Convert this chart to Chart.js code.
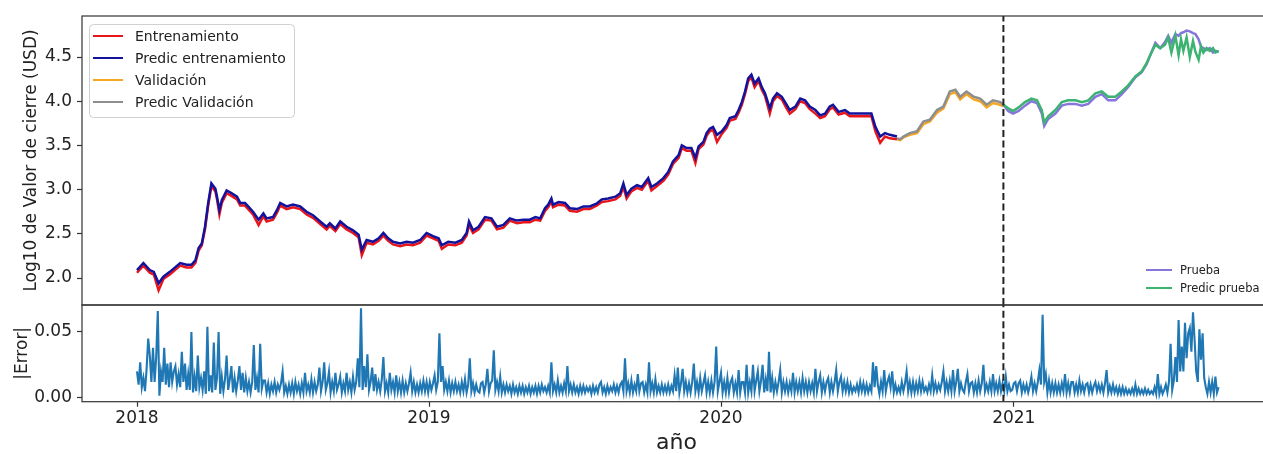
<!DOCTYPE html>
<html><head><meta charset="utf-8">
<script src="https://cdn.jsdelivr.net/npm/chart.js@4.4.1/dist/chart.umd.min.js"></script>
<style>
html,body{margin:0;padding:0;background:#fff;overflow:hidden;width:1263px;height:454px}
#wrap{width:1263px;height:454px;overflow:hidden;position:relative}
canvas{display:block}
</style>
</head><body><div id="wrap"><canvas id="c" width="1280" height="454"></canvas></div>
<script>
// x values: days since 2018-01-01
const yearLabels = ['2018','2019','2020','2021'];
const yearDays = [0, 365, 730, 1096];
const priceTicks = [2.0, 2.5, 3.0, 3.5, 4.0, 4.5];
const errTicks = [0.00, 0.05];
const splitDay = 1083; // dashed separator (validation / test)

const trainDays = [
0,8,16,21,27,33,41,54,62,68,
73,77,81,85,89,93,98,100,103,106,
112,118,125,129,135,139,145,152,158,162,
170,175,179,187,195,204,212,220,229,237,
241,248,254,262,270,277,281,287,295,302,
308,314,320,329,337,345,354,362,370,377,
381,389,398,406,412,415,420,427,435,443,
450,458,466,475,483,491,498,504,510,514,
518,520,527,535,541,550,558,566,575,581,
589,598,604,608,612,618,625,631,639,643,
650,658,664,670,677,681,687,693,698,702,
708,712,716,720,725,731,737,741,748,752,
756,760,764,768,772,777,781,785,791,795,
800,806,812,816,823,829,835,841,848,854,
860,866,870,877,885,891,900,908,918,923,
929,935,941,950];
const trainActual = [
2.06,2.14,2.06,2.04,1.86,1.99,2.04,2.14,2.12,2.12,
2.17,2.31,2.37,2.55,2.82,3.04,2.98,2.89,2.72,2.85,
2.96,2.93,2.89,2.82,2.82,2.78,2.72,2.60,2.70,2.64,
2.66,2.74,2.82,2.78,2.80,2.78,2.72,2.68,2.61,2.55,
2.59,2.53,2.61,2.55,2.51,2.46,2.26,2.40,2.38,2.42,
2.48,2.42,2.38,2.36,2.38,2.37,2.40,2.48,2.45,2.42,
2.33,2.38,2.37,2.40,2.48,2.60,2.51,2.55,2.66,2.65,
2.55,2.57,2.65,2.62,2.63,2.63,2.66,2.65,2.76,2.80,
2.87,2.80,2.83,2.82,2.76,2.75,2.78,2.78,2.82,2.86,
2.87,2.89,2.93,3.03,2.90,2.98,3.02,3.00,3.10,2.99,
3.04,3.10,3.17,3.29,3.36,3.47,3.44,3.44,3.30,3.46,
3.51,3.61,3.66,3.68,3.54,3.63,3.70,3.78,3.80,3.87,
3.96,4.08,4.23,4.27,4.16,4.23,4.13,4.06,3.86,4.00,
4.06,4.02,3.92,3.86,3.91,4.00,3.98,3.91,3.86,3.81,
3.83,3.91,3.93,3.85,3.87,3.83,3.83,3.83,3.83,3.66,
3.53,3.60,3.58,3.57];
const trainPred = [
2.09,2.17,2.09,2.07,1.94,2.015,2.07,2.17,2.15,2.15,
2.20,2.34,2.39,2.58,2.85,3.07,3.01,2.92,2.77,2.88,
2.99,2.96,2.92,2.85,2.85,2.81,2.75,2.66,2.73,2.675,
2.69,2.77,2.85,2.81,2.83,2.81,2.75,2.71,2.64,2.58,
2.62,2.56,2.64,2.58,2.54,2.49,2.32,2.43,2.41,2.45,
2.51,2.45,2.41,2.39,2.41,2.40,2.43,2.51,2.475,2.45,
2.37,2.41,2.40,2.43,2.51,2.64,2.54,2.58,2.69,2.675,
2.58,2.60,2.675,2.65,2.66,2.66,2.69,2.675,2.79,2.83,
2.90,2.83,2.86,2.85,2.79,2.78,2.81,2.81,2.845,2.89,
2.90,2.92,2.96,3.07,2.94,3.01,3.05,3.03,3.13,3.03,
3.07,3.13,3.20,3.32,3.39,3.50,3.47,3.47,3.36,3.49,
3.54,3.64,3.69,3.71,3.62,3.66,3.73,3.81,3.83,3.90,
3.99,4.11,4.26,4.30,4.20,4.26,4.16,4.09,3.92,4.03,
4.09,4.05,3.96,3.90,3.94,4.03,4.01,3.94,3.90,3.84,
3.86,3.94,3.96,3.88,3.90,3.86,3.86,3.86,3.86,3.71,
3.60,3.64,3.62,3.60];

const valDays = [950,954,958,966,975,983,991,1000,1008,1016,1023,1029,1037,1046,1054,1062,1070,1079,1083];
const valActual = [3.57,3.56,3.59,3.62,3.64,3.74,3.77,3.87,3.92,4.08,4.10,4.02,4.08,4.02,4.00,3.93,3.98,3.96,3.94];
const valPred = [3.58,3.57,3.60,3.64,3.66,3.77,3.79,3.90,3.94,4.11,4.13,4.05,4.11,4.05,4.03,3.96,4.01,3.99,3.96];

const testDays = [
1083,1089,1095,1102,1110,1118,1125,1131,1134,1139,
1148,1156,1164,1173,1181,1189,1198,1206,1214,1223,
1231,1239,1248,1256,1262,1268,1273,1279,1285,1289,
1293,1298,1302,1305,1308,1312,1316,1320,1323,1327,
1330,1333,1337,1341,1345,1348,1352];
const testActual = [
3.96,3.89,3.86,3.89,3.95,4.00,3.98,3.86,3.72,3.80,
3.86,3.95,3.97,3.97,3.95,3.97,4.05,4.08,4.01,4.01,
4.08,4.16,4.27,4.33,4.42,4.55,4.66,4.60,4.67,4.74,
4.66,4.76,4.74,4.77,4.78,4.80,4.79,4.77,4.76,4.70,
4.62,4.60,4.58,4.60,4.55,4.57,4.56];
const testPred = [
3.96,3.92,3.89,3.93,3.99,4.03,4.01,3.90,3.76,3.83,
3.90,3.99,4.01,4.01,3.99,4.01,4.09,4.11,4.05,4.05,
4.11,4.18,4.28,4.34,4.43,4.55,4.64,4.60,4.64,4.72,
4.55,4.74,4.52,4.70,4.57,4.72,4.50,4.68,4.56,4.47,
4.62,4.55,4.60,4.57,4.60,4.55,4.57];

// |Error| read every 2 days from 2018-01-01 (one row = 20 days)
const ERR_STEP_DAYS = 2;
const errVals = [
.020,.010,.027,.008,.015,.005,.022,.045,.032,.012,
.038,.012,.031,.066,.0015,.020,.012,.038,.010,.026,
.008,.027,.012,.020,.024,.010,.018,.008,.035,.012,
.026,.006,.018,.006,.050,.004,.016,.005,.032,.008,
.015,.006,.020,.003,.054,.005,.017,.004,.042,.006,
.015,.050,.003,.016,.005,.014,.032,.006,.014,.024,
.004,.015,.005,.013,.024,.006,.019,.004,.015,.005,
.012,.004,.012,.040,.006,.015,.004,.041,.007,.013,
.013,.004,.011,.003,.010,.005,.012,.004,.010,.006,
.011,.020,.004,.009,.003,.010,.004,.011,.003,.012,
.005,.010,.003,.011,.004,.019,.005,.010,.004,.014,
.004,.012,.005,.010,.023,.005,.012,.027,.006,.011,
.020,.004,.012,.005,.019,.006,.010,.016,.004,.011,
.005,.019,.006,.012,.004,.016,.006,.012,.030,.008,
.068,.006,.024,.008,.033,.006,.012,.023,.005,.018,
.006,.012,.005,.014,.031,.005,.011,.004,.019,.006,
.012,.004,.017,.005,.012,.004,.013,.004,.011,.005,
.011,.019,.005,.012,.004,.010,.004,.011,.005,.013,
.005,.012,.004,.012,.006,.011,.017,.006,.012,.049,
.012,.024,.006,.012,.005,.013,.004,.011,.005,.012,
.005,.010,.004,.012,.005,.014,.004,.010,.030,.005,
.011,.004,.010,.005,.004,.011,.012,.004,.010,.022,
.005,.011,.013,.036,.006,.012,.005,.016,.004,.010,
.004,.010,.005,.009,.003,.010,.004,.008,.003,.009,
.004,.009,.003,.008,.004,.009,.003,.008,.004,.009,
.003,.009,.004,.010,.005,.008,.004,.009,.004,.027,
.005,.010,.004,.013,.004,.009,.004,.011,.005,.024,
.005,.010,.004,.010,.004,.008,.003,.009,.004,.009,
.004,.008,.005,.008,.003,.009,.004,.008,.004,.010,
.012,.004,.008,.003,.009,.004,.008,.005,.010,.004,
.009,.004,.010,.012,.005,.030,.005,.011,.004,.013,
.004,.010,.005,.018,.005,.011,.012,.004,.010,.004,
.027,.005,.011,.004,.014,.004,.009,.004,.010,.004,
.009,.004,.010,.004,.009,.005,.017,.005,.023,.004,
.011,.022,.005,.012,.004,.011,.004,.012,.026,.005,
.012,.004,.015,.005,.011,.017,.004,.012,.004,.013,
.004,.012,.039,.005,.012,.019,.004,.012,.004,.015,
.004,.012,.015,.004,.011,.004,.021,.004,.012,.012,
.004,.025,.004,.012,.005,.025,.005,.013,.020,.005,
.013,.025,.004,.014,.005,.035,.004,.015,.004,.012,
.005,.012,.021,.004,.012,.005,.012,.004,.011,.005,
.019,.004,.012,.005,.012,.004,.015,.005,.012,.004,
.012,.005,.011,.004,.022,.005,.012,.017,.004,.012,
.005,.012,.015,.004,.012,.005,.012,.021,.005,.012,
.016,.005,.012,.005,.012,.004,.010,.004,.008,.005,
.010,.004,.012,.005,.011,.004,.010,.004,.009,.005,
.027,.008,.024,.010,.003,.012,.005,.021,.005,.012,
.016,.008,.020,.004,.010,.004,.008,.004,.012,.005,
.011,.020,.005,.012,.004,.012,.004,.011,.005,.013,
.005,.012,.005,.008,.004,.010,.005,.017,.005,.011,
.005,.010,.006,.012,.020,.005,.012,.005,.013,.005,
.021,.005,.012,.022,.005,.011,.006,.004,.012,.018,
.005,.011,.012,.004,.011,.004,.013,.005,.011,.025,
.005,.010,.005,.012,.005,.018,.005,.011,.005,.013,
.005,.011,.005,.016,.005,.010,.005,.006,.011,.012,
.005,.011,.013,.004,.010,.005,.010,.004,.009,.016,
.005,.011,.005,.012,.021,.010,.063,.012,.018,.004,
.013,.004,.011,.004,.011,.004,.010,.004,.011,.005,
.018,.004,.011,.004,.012,.012,.004,.010,.004,.013,
.005,.010,.004,.010,.011,.004,.010,.004,.009,.012,
.005,.010,.005,.010,.004,.011,.021,.004,.009,.004,
.010,.004,.008,.003,.008,.003,.008,.003,.007,.003,
.006,.003,.007,.003,.010,.003,.007,.003,.006,.003,
.007,.003,.006,.003,.005,.003,.008,.003,.018,.003,
.008,.003,.006,.010,.004,.012,.041,.006,.013,.031,
.012,.059,.020,.039,.020,.057,.030,.049,.053,.035,
.065,.044,.020,.012,.052,.029,.049,.015,.008,.003,
.012,.004,.012,.003,.016,.004,.008];
const errDays = errVals.map((_, i) => i * ERR_STEP_DAYS);

// axis limits
const X_MIN = -68.75, X_MAX = 1417.5;
const P_MIN = 1.695, P_MAX = 4.964;
const E_MIN = -0.003, E_MAX = 0.0705;

const FONT = "'DejaVu Sans', sans-serif";
const TXT = '#222';
const legendA = ['Entrenamiento','Predic entrenamiento','Validación','Predic Validación'];
const legendB = ['Prueba','Predic prueba'];

const pts = (xs, ys) => xs.slice(0, Math.min(xs.length, ys.length)).map((x, i) => ({x, y: ys[i]}));

const line = (label, xs, ys, color, order, axis, extra) => Object.assign({
  label, data: pts(xs, ys), borderColor: color, backgroundColor: color,
  borderWidth: 2.5, pointRadius: 0, tension: 0, fill: false, order, yAxisID: axis
}, extra || {});

const datasets = [
  line('Entrenamiento', trainDays, trainActual, '#e8161b', 8, 'y'),
  line('Predic entrenamiento', trainDays, trainPred, '#12129c', 7, 'y'),
  line('Validación', valDays, valActual, '#f5a623', 6, 'y'),
  line('Predic Validación', valDays, valPred, '#8e8e8e', 5, 'y'),
  line('Prueba', testDays, testActual, '#8675dc', 4, 'y'),
  line('Predic prueba', testDays, testPred, '#3cb371', 3, 'y'),
  line('|Error|', errDays, errVals, '#1f77b4', 2, 'yErr', {borderWidth: 2.1}),
  line('split', [splitDay, splitDay], [P_MIN, P_MAX], '#222', 1, 'y', {borderWidth: 2, borderDash: [7, 3.5]}),
  line('split2', [splitDay, splitDay], [E_MIN, E_MAX], '#222', 1, 'yErr', {borderWidth: 2, borderDash: [7, 3.5]})
];

const yAxis = (title, titlePad, tickVals, dec, min, max, weight) => ({
  type: 'linear', position: 'left', stack: 'panels', stackWeight: weight,
  min, max,
  afterBuildTicks: s => { s.ticks = tickVals.map(v => ({value: v})); },
  afterFit: s => { s.width = 82; },
  ticks: { callback: v => Number(v).toFixed(dec), font: {family: FONT, size: 17}, color: TXT, padding: 5, autoSkip: false },
  grid: { drawOnChartArea: false, drawTicks: true, tickLength: 5, tickColor: '#333', tickWidth: 1.2 },
  border: { display: false },
  title: { display: true, text: title, font: {family: FONT, size: 17, lineHeight: 1.2}, color: TXT, padding: {top: titlePad, bottom: 0} }
});

const framePlugin = {
  id: 'frame',
  afterDatasetsDraw(chart) {
    const {ctx, chartArea: ca} = chart;
    ctx.save();
    ctx.strokeStyle = '#333';
    ctx.lineWidth = 1.2;
    [chart.scales.y, chart.scales.yErr].forEach(s => {
      ctx.strokeRect(ca.left, s.top, ca.right - ca.left, s.bottom - s.top);
    });
    ctx.restore();
  }
};

const legendPlugin = {
  id: 'legends',
  afterDraw(chart) {
    const {ctx, chartArea: ca} = chart;
    const yTop = chart.scales.y;
    const find = l => chart.data.datasets.find(d => d.label === l);
    ctx.save();
    const ax = ca.left + 7, ay = yTop.top + 8, aw = 205, ah = 93;
    ctx.beginPath();
    ctx.roundRect(ax + 0.5, ay + 0.5, aw, ah, 4);
    ctx.fillStyle = 'rgba(255,255,255,0.85)';
    ctx.fill();
    ctx.strokeStyle = '#d0d0d0';
    ctx.lineWidth = 1;
    ctx.stroke();
    ctx.font = '14px ' + FONT;
    ctx.textBaseline = 'middle';
    ctx.textAlign = 'left';
    legendA.forEach((l, i) => {
      const ds = find(l);
      const cy = ay + 12 + i * 22;
      ctx.strokeStyle = ds.borderColor;
      ctx.lineWidth = 2;
      ctx.beginPath(); ctx.moveTo(ax + 4, cy); ctx.lineTo(ax + 34, cy); ctx.stroke();
      ctx.fillStyle = TXT;
      ctx.fillText(l, ax + 46, cy + 1);
    });
    ctx.font = '11.5px ' + FONT;
    legendB.forEach((l, i) => {
      const ds = find(l);
      const cy = yTop.bottom - 35 + i * 18;
      ctx.strokeStyle = ds.borderColor;
      ctx.lineWidth = 2;
      ctx.beginPath(); ctx.moveTo(ca.right - 125, cy); ctx.lineTo(ca.right - 99, cy); ctx.stroke();
      ctx.fillStyle = TXT;
      ctx.fillText(l, ca.right - 91, cy + 1);
    });
    ctx.restore();
  }
};

Chart.defaults.font.family = FONT;

new Chart(document.getElementById('c'), {
  type: 'line',
  data: { datasets },
  options: {
    responsive: false, animation: false, devicePixelRatio: 1,
    layout: { padding: { left: 0, right: 9, top: 16, bottom: 0 } },
    plugins: { legend: { display: false }, tooltip: { enabled: false } },
    scales: {
      x: {
        type: 'linear', position: 'bottom', min: X_MIN, max: X_MAX,
        afterBuildTicks: s => { s.ticks = yearDays.map(v => ({value: v})); },
        afterFit: s => { s.height = 52.3; },
        ticks: { callback: (v, i) => yearLabels[i], font: {family: FONT, size: 17}, color: TXT, maxRotation: 0, autoSkip: false, padding: 2 },
        grid: { drawOnChartArea: false, drawTicks: true, tickLength: 5, tickColor: '#333', tickWidth: 1.2 },
        border: { display: false },
        title: { display: true, text: 'año', font: {family: FONT, size: 22, lineHeight: 1.0}, color: TXT, padding: {top: 0, bottom: 0} }
      },
      yErr: yAxis('|Error|', 12, errTicks, 2, E_MIN, E_MAX, 96.7),
      y: yAxis('Log10 de Valor de cierre (USD)', 21, priceTicks, 1, P_MIN, P_MAX, 289)
    }
  },
  plugins: [framePlugin, legendPlugin]
});
</script></body></html>
